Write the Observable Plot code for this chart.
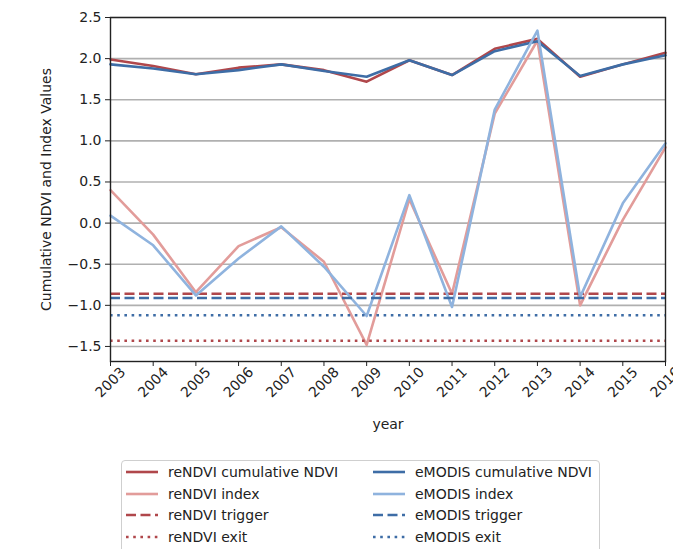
<!DOCTYPE html>
<html>
<head>
<meta charset="utf-8">
<script src="https://cdn.jsdelivr.net/npm/d3@7"></script>
<script src="https://cdn.jsdelivr.net/npm/@observablehq/plot@0.6"></script>
<style>
  html, body { margin: 0; padding: 0; background: #fff; overflow: hidden; }
  #wrap { position: relative; width: 673px; height: 549px; font-family: "DejaVu Sans", sans-serif; }
  #legend { position: absolute; left: 121px; top: 460px; width: 479px; height: 100px;
            border: 1px solid #cfcfcf; border-radius: 4px; background: #fff; box-sizing: border-box; }
  .item { position: absolute; display: flex; align-items: center; font-size: 14px; color: #222; white-space: nowrap; }
  .item svg { margin-right: 10px; }
</style>
</head>
<body>
<div id="wrap">
  <div id="chart"></div>
  <div id="legend"></div>
</div>
<script>
const years = [2003, 2004, 2005, 2006, 2007, 2008, 2009, 2010, 2011, 2012, 2013, 2014, 2015, 2016];
const reNDVICumulative = [1.99, 1.91, 1.81, 1.89, 1.93, 1.86, 1.72, 1.98, 1.80, 2.12, 2.24, 1.78, 1.93, 2.07];
const eMODISCumulative = [1.93, 1.88, 1.81, 1.86, 1.93, 1.85, 1.78, 1.98, 1.80, 2.09, 2.21, 1.79, 1.93, 2.04];
const reNDVIIndex = [0.40, -0.14, -0.84, -0.28, -0.05, -0.47, -1.48, 0.29, -0.86, 1.33, 2.22, -1.00, 0.04, 0.92];
const eMODISIndex = [0.09, -0.27, -0.88, -0.43, -0.04, -0.53, -1.13, 0.34, -1.02, 1.38, 2.34, -0.90, 0.24, 0.97];
const reNDVITrigger = -0.86;
const eMODISTrigger = -0.91;
const reNDVIExit = -1.43;
const eMODISExit = -1.12;
const yTicks = [-1.5, -1.0, -0.5, 0.0, 0.5, 1.0, 1.5, 2.0, 2.5];

const colors = {
  reCum: "#b0474b",
  reIdx: "#e29c9a",
  emCum: "#3e6da6",
  emIdx: "#8fb3de"
};

const series = (vals, key) => years.map((y, i) => ({year: y, value: vals[i], key}));
const reCumData = series(reNDVICumulative, "reCum");
const reIdxData = series(reNDVIIndex, "reIdx");
const emCumData = series(eMODISCumulative, "emCum");
const emIdxData = series(eMODISIndex, "emIdx");

const plot = Plot.plot({
  width: 673,
  height: 455,
  marginLeft: 110,
  marginRight: 8,
  marginTop: 17,
  marginBottom: 94,
  style: {fontFamily: "DejaVu Sans, sans-serif", fontSize: "14px", color: "#222", background: "#fff"},
  x: {type: "linear", domain: [2003, 2016]},
  y: {domain: [-1.683, 2.5]},
  marks: [
    Plot.gridY(yTicks, {stroke: "#b0b0b0", strokeOpacity: 1, strokeWidth: 1.6}),
    Plot.axisY({ticks: yTicks, tickFormat: d3.format(".1f"), tickSize: 5, tickPadding: 4, fontSize: 14,
      label: "Cumulative NDVI and Index Values", labelAnchor: "center", labelArrow: "none", labelOffset: 69}),
    Plot.axisX({ticks: years, tickFormat: d => String(d), tickSize: 5, tickRotate: -45,
      textAnchor: "middle", lineAnchor: "middle", tickPadding: 16, fontSize: 14,
      label: "year", labelAnchor: "center", labelArrow: "none", labelOffset: 67}),
    Plot.line(reCumData, {x: "year", y: "value", stroke: colors.reCum, strokeWidth: 2.6}),
    Plot.line(reIdxData, {x: "year", y: "value", stroke: colors.reIdx, strokeWidth: 2.6}),
    Plot.ruleY([reNDVITrigger], {stroke: colors.reCum, strokeWidth: 2.6, strokeDasharray: "10,4.5"}),
    Plot.ruleY([reNDVIExit], {stroke: colors.reCum, strokeWidth: 2.6, strokeDasharray: "2.6,4.6"}),
    Plot.line(emCumData, {x: "year", y: "value", stroke: colors.emCum, strokeWidth: 2.6}),
    Plot.line(emIdxData, {x: "year", y: "value", stroke: colors.emIdx, strokeWidth: 2.6}),
    Plot.ruleY([eMODISTrigger], {stroke: colors.emCum, strokeWidth: 2.6, strokeDasharray: "10,4.5"}),
    Plot.ruleY([eMODISExit], {stroke: colors.emCum, strokeWidth: 2.6, strokeDasharray: "2.6,4.6"}),
    Plot.frame({stroke: "#222", strokeWidth: 1.4})
  ]
});
document.getElementById("chart").appendChild(plot);

// Legend
const legendItems = [
  {label: "reNDVI cumulative NDVI", color: colors.reCum, dash: null, col: 0, row: 0},
  {label: "reNDVI index", color: colors.reIdx, dash: null, col: 0, row: 1},
  {label: "reNDVI trigger", color: colors.reCum, dash: "10,4.5", col: 0, row: 2},
  {label: "reNDVI exit", color: colors.reCum, dash: "2.6,4.6", col: 0, row: 3},
  {label: "eMODIS cumulative NDVI", color: colors.emCum, dash: null, col: 1, row: 0},
  {label: "eMODIS index", color: colors.emIdx, dash: null, col: 1, row: 1},
  {label: "eMODIS trigger", color: colors.emCum, dash: "10,4.5", col: 1, row: 2},
  {label: "eMODIS exit", color: colors.emCum, dash: "2.6,4.6", col: 1, row: 3}
];
const legend = document.getElementById("legend");
legendItems.forEach(it => {
  const div = document.createElement("div");
  div.className = "item";
  div.style.left = (it.col === 0 ? 4 : 251) + "px";
  div.style.top = (3 + it.row * 21.5) + "px";
  div.innerHTML = `<svg width="32" height="16"><line x1="0" x2="32" y1="8" y2="8" stroke="${it.color}" stroke-width="2.6" ${it.dash ? `stroke-dasharray="${it.dash}"` : ""}/></svg><span>${it.label}</span>`;
  legend.appendChild(div);
});
</script>
</body>
</html>
